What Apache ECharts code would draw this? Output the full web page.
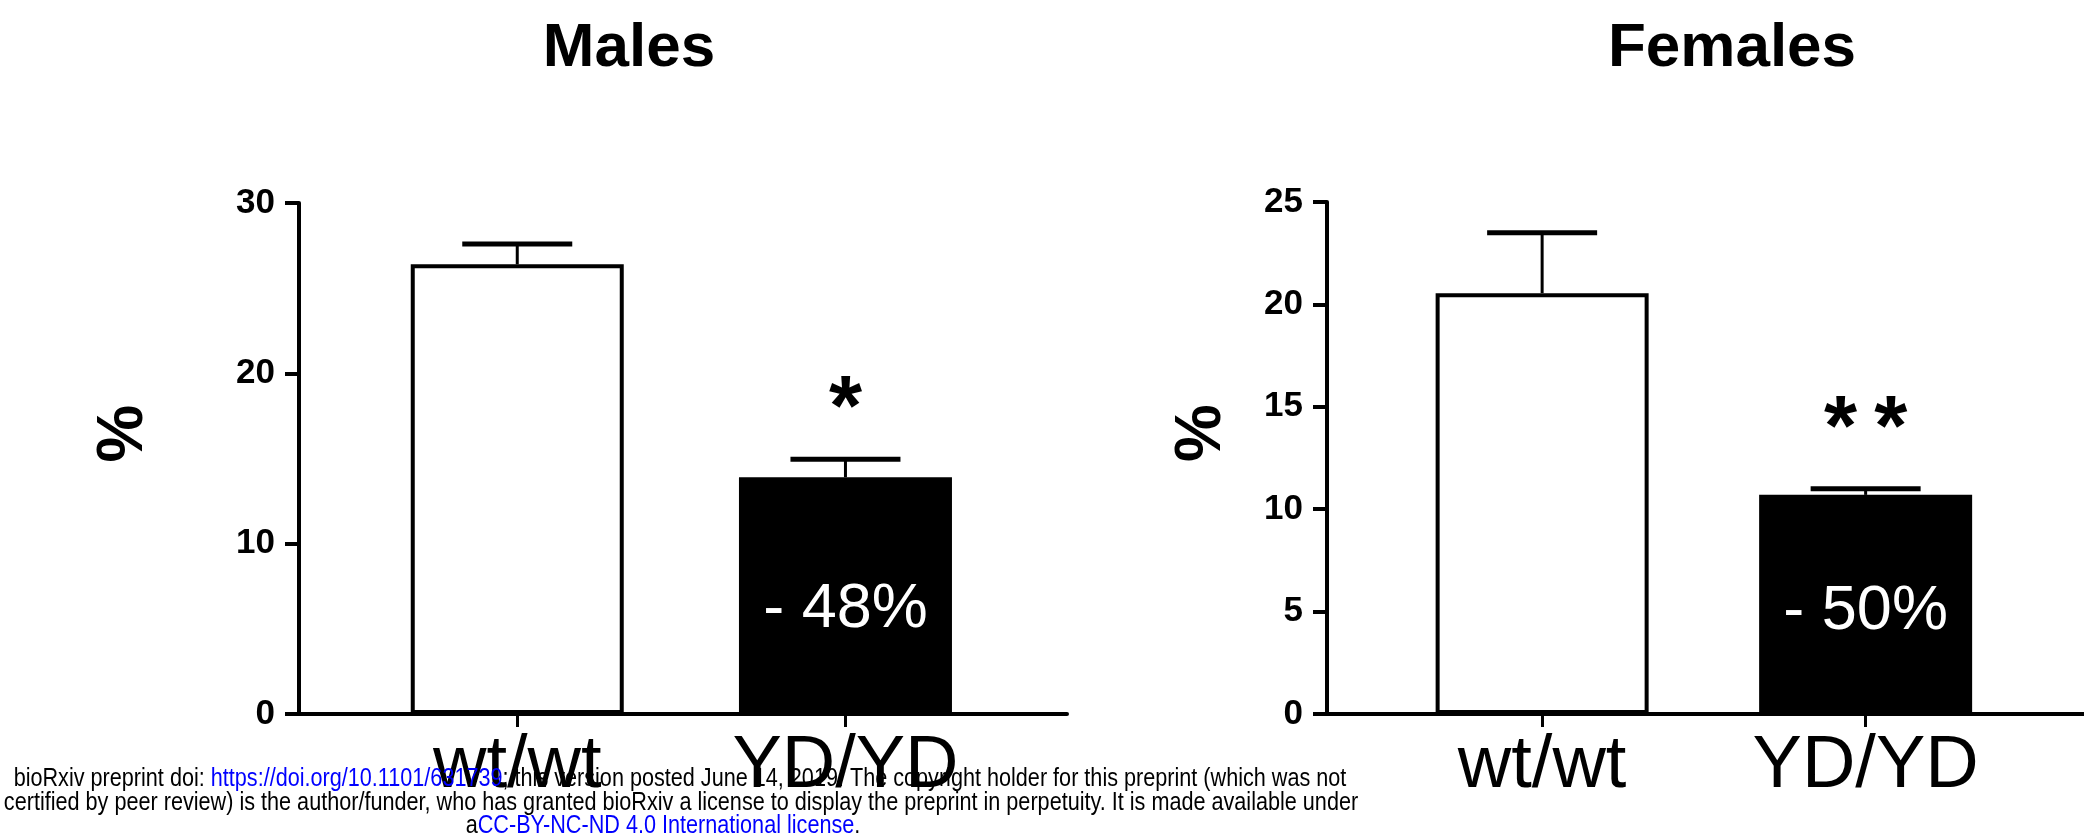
<!DOCTYPE html>
<html>
<head>
<meta charset="utf-8">
<script src="https://cdn.jsdelivr.net/npm/echarts@6/dist/echarts.min.js"></script>
<style>
  html, body { margin: 0; padding: 0; background: #fff; }
  #main { width: 2084px; height: 835px; }
</style>
</head>
<body>
<div id="main"></div>
<script>
// genotypes
var categories = ['wt/wt', 'YD/YD'];

// Males: mean and SEM (%)
var malesMean = [26.4, 13.9];
var malesSem = [1.2, 1.05];
var malesStars = ['', '*'];
var malesChange = ['', '- 48%'];
var malesTicks = [0, 10, 20, 30];

// Females: mean and SEM (%)
var femalesMean = [20.55, 10.7];
var femalesSem = [2.95, 0.3];
var femalesStars = ['', '*\u2009*'];
var femalesChange = ['', '- 50%'];
var femalesTicks = [0, 5, 10, 15, 20, 25];

var FONT = '"Liberation Sans", Arial, sans-serif';
var barColors = ['#ffffff', '#000000'];

const chart = echarts.init(document.getElementById('main'), null, { renderer: 'canvas' });

function xAxisFor(grid) {
  return {
    type: 'value', gridIndex: grid,
    min: -0.665, max: 1.675,
    splitLine: { show: false },
    axisLine: { show: true, onZero: false, lineStyle: { color: '#000', width: 4 } },
    axisTick: { show: true, customValues: [0, 1], length: 13, lineStyle: { color: '#000', width: 3 } },
    axisLabel: {
      customValues: [0, 1], margin: 16,
      formatter: function (v) { return categories[Math.round(v)]; },
      color: '#000', fontSize: 74, fontFamily: FONT
    }
  };
}

function yAxisFor(grid, ticks, gap) {
  return {
    type: 'value', gridIndex: grid,
    min: ticks[0], max: ticks[ticks.length - 1], interval: ticks[1] - ticks[0],
    name: '%', nameLocation: 'middle', nameRotate: 90, nameGap: gap,
    nameTextStyle: { color: '#000', fontSize: 65, fontWeight: 'bold', fontFamily: FONT, padding: [0, 0, 0, 50] },
    splitLine: { show: false },
    axisLine: { show: true, onZero: false, lineStyle: { color: '#000', width: 4 } },
    axisTick: { show: true, length: 14, lineStyle: { color: '#000', width: 4 } },
    axisLabel: { margin: 24, color: '#000', fontSize: 35, fontWeight: 'bold', fontFamily: FONT }
  };
}

function barSeries(idx, mean, change, dy) {
  return {
    type: 'bar', xAxisIndex: idx, yAxisIndex: idx,
    barWidth: 213,
    data: mean.map(function (v, i) {
      return {
        value: [i, v],
        itemStyle: { color: barColors[i], borderColor: '#000', borderWidth: 4 }
      };
    }),
    label: {
      show: true, position: 'inside', offset: [0, dy],
      color: '#fff', fontSize: 63, fontFamily: FONT,
      formatter: function (p) { return change[p.dataIndex]; }
    },
    z: 2
  };
}

function errSeries(idx, mean, sem, stars, starGap) {
  return {
    type: 'custom', xAxisIndex: idx, yAxisIndex: idx,
    data: mean.map(function (v, i) { return [i, v, sem[i]]; }),
    renderItem: function (params, api) {
      var x = api.value(0), y = api.value(1), e = api.value(2);
      var base = api.coord([x, y]);
      var top = api.coord([x, y + e]);
      return {
        type: 'group',
        children: [
          { type: 'line', shape: { x1: base[0], y1: base[1], x2: top[0], y2: top[1] },
            style: { stroke: '#000', lineWidth: 3 } },
          { type: 'line', shape: { x1: top[0] - 55, y1: top[1], x2: top[0] + 55, y2: top[1] },
            style: { stroke: '#000', lineWidth: 5 } },
          { type: 'text', x: top[0], y: top[1] - starGap,
            style: { text: stars[params.dataIndex], fill: '#000', fontSize: 85, fontWeight: 'bold',
                     fontFamily: FONT, align: 'center', verticalAlign: 'middle' } }
        ]
      };
    },
    z: 3
  };
}

// preprint banner, narrow face imitated by squeezing Liberation Sans
var footStyle = { fontSize: 25, fontFamily: FONT, fill: '#000', align: 'center', verticalAlign: 'middle' };
var footRich = { b: { fill: '#0000ff', fontSize: 25, fontFamily: FONT } };

var option = {
  backgroundColor: '#fff',
  animation: false,
  title: [
    { text: 'Males', left: 629, top: 18, padding: 0, textAlign: 'center',
      textStyle: { fontSize: 62, fontWeight: 'bold', fontFamily: FONT, color: '#000' } },
    { text: 'Females', left: 1732, top: 18, padding: 0, textAlign: 'center',
      textStyle: { fontSize: 62, fontWeight: 'bold', fontFamily: FONT, color: '#000' } }
  ],
  grid: [
    { left: 299, top: 203, width: 768, height: 511 },
    { left: 1327, top: 202, width: 768, height: 512 }
  ],
  xAxis: [xAxisFor(0), xAxisFor(1)],
  yAxis: [yAxisFor(0, malesTicks, 142), yAxisFor(1, femalesTicks, 92)],
  series: [
    barSeries(0, malesMean, malesChange, 14),
    errSeries(0, malesMean, malesSem, malesStars, 48),
    barSeries(1, femalesMean, femalesChange, 7),
    errSeries(1, femalesMean, femalesSem, femalesStars, 57)
  ],
  graphic: [
    { type: 'text', x: 680, y: 779, scaleX: 0.865, z: 100,
      style: Object.assign({}, footStyle, {
        text: 'bioRxiv preprint doi: {b|https://doi.org/10.1101/631739}; this version posted June 14, 2019. The copyright holder for this preprint (which was not',
        rich: footRich }) },
    { type: 'text', x: 681, y: 803, scaleX: 0.865, z: 100,
      style: Object.assign({}, footStyle, {
        text: 'certified by peer review) is the author/funder, who has granted bioRxiv a license to display the preprint in perpetuity. It is made available under' }) },
    { type: 'text', x: 663, y: 826, scaleX: 0.865, z: 100,
      style: Object.assign({}, footStyle, {
        text: 'a{b|CC-BY-NC-ND 4.0 International license}.',
        rich: footRich }) }
  ]
};

chart.setOption(option);
</script>
</body>
</html>
